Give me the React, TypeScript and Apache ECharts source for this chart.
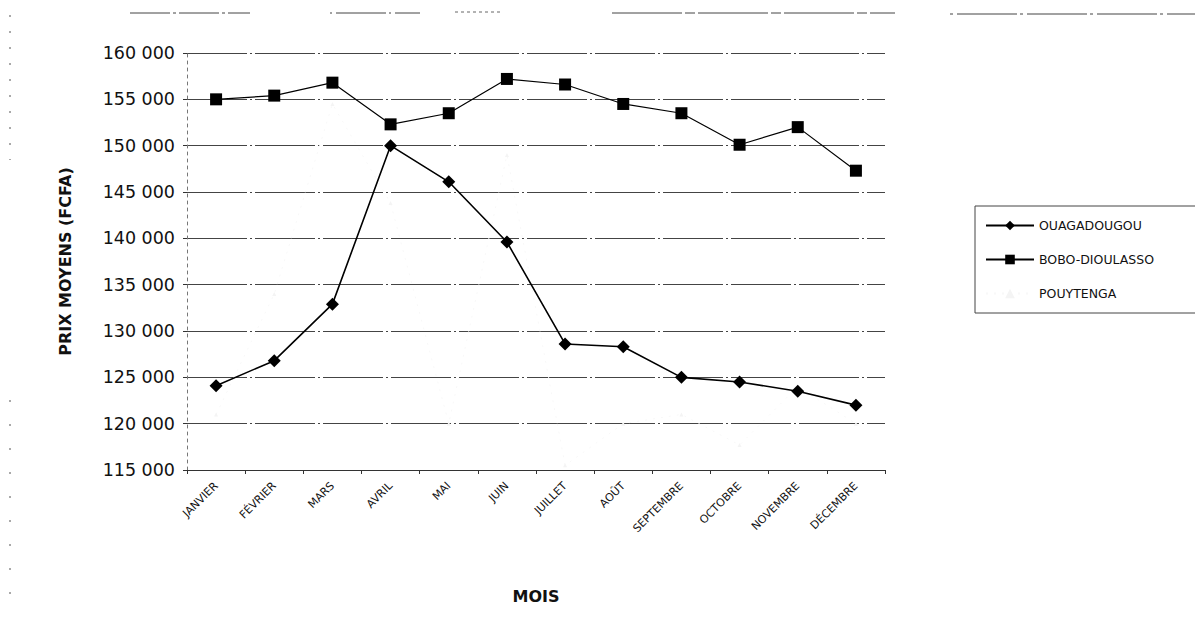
import React, { useEffect, useRef } from "react";
import * as echarts from "echarts";

const months = ["JANVIER", "FÉVRIER", "MARS", "AVRIL", "MAI", "JUIN", "JUILLET", "AOÛT", "SEPTEMBRE", "OCTOBRE", "NOVEMBRE", "DÉCEMBRE"];
const ouagadougou = [124100, 126800, 132900, 150000, 146100, 139600, 128600, 128300, 125000, 124500, 123500, 122000];
const boboDioulasso = [155000, 155400, 156800, 152300, 153500, 157200, 156600, 154500, 153500, 150100, 152000, 147300];
const pouytenga = [121000, 134000, 154500, 143800, 120000, 149000, 115500, 120000, 121000, 117700, 124000, 120000];
const seriesNames = ["OUAGADOUGOU", "BOBO-DIOULASSO", "POUYTENGA"];

const FONT = "DejaVu Sans";

export default function App() {
  const ref = useRef<HTMLDivElement>(null);
  useEffect(() => {
    document.body.style.margin = "0";
    const chart = echarts.init(ref.current!, null, { renderer: "svg" });
    chart.setOption({
      animation: false,
      backgroundColor: "#ffffff",
      textStyle: { fontFamily: FONT, color: "#111" },
      grid: { left: 187, right: 310, top: 53, bottom: 167 },
      legend: {
        data: seriesNames,
        orient: "vertical",
        left: 975,
        top: 206,
        itemWidth: 48,
        itemHeight: 12,
        itemGap: 21,
        padding: [13, 50, 13, 10],
        borderColor: "#444",
        borderWidth: 1,
        textStyle: { fontFamily: FONT, fontSize: 12.5, color: "#111" },
      },
      xAxis: {
        type: "category",
        data: months,
        boundaryGap: true,
        name: "MOIS",
        nameLocation: "middle",
        nameGap: 118,
        nameTextStyle: { fontFamily: FONT, fontWeight: "bold", fontSize: 16, color: "#111" },
        axisLine: { lineStyle: { color: "#333", width: 1 } },
        axisTick: { show: true, length: 4, lineStyle: { color: "#333" } },
        axisLabel: { rotate: 45, fontSize: 11, color: "#111", margin: 14, interval: 0, fontFamily: FONT },
      },
      yAxis: {
        type: "value",
        min: 115000,
        max: 160000,
        interval: 5000,
        name: "PRIX MOYENS (FCFA)",
        nameLocation: "middle",
        nameGap: 114,
        nameRotate: 90,
        nameTextStyle: { fontFamily: FONT, fontWeight: "bold", fontSize: 16, color: "#111" },
        axisLine: { show: true, lineStyle: { color: "#777", type: [3, 4], width: 1 } },
        axisTick: { show: true, length: 4, lineStyle: { color: "#333" } },
        axisLabel: {
          fontSize: 17.5,
          color: "#111",
          margin: 12,
          fontFamily: FONT,
          formatter: (v: number) => String(v).replace(/\B(?=(\d{3})+(?!\d))/g, " "),
        },
        splitLine: { show: true, lineStyle: { color: "#444", width: 1, type: [60, 3, 2, 3] } },
      },
      series: [
        {
          name: seriesNames[0],
          type: "line",
          data: ouagadougou,
          symbol: "diamond",
          symbolSize: 13,
          itemStyle: { color: "#000" },
          lineStyle: { color: "#000", width: 1.6 },
        },
        {
          name: seriesNames[1],
          type: "line",
          data: boboDioulasso,
          symbol: "rect",
          symbolSize: 12,
          itemStyle: { color: "#000" },
          lineStyle: { color: "#000", width: 1.2 },
        },
        {
          name: seriesNames[2],
          type: "line",
          data: pouytenga,
          symbol: "triangle",
          symbolSize: 4,
          itemStyle: { color: "#f4f4f4" },
          lineStyle: { color: "#f8f8f8", width: 1, type: [2, 6] },
          z: 1,
        },
      ],
      graphic: [
        { type: "line", shape: { x1: 130, y1: 13, x2: 250, y2: 13 }, style: { stroke: "#444", lineWidth: 1, lineDash: [40, 3, 3, 3] } },
        { type: "line", shape: { x1: 330, y1: 13, x2: 420, y2: 13 }, style: { stroke: "#444", lineWidth: 1, lineDash: [2, 4, 50, 3] } },
        { type: "line", shape: { x1: 455, y1: 12, x2: 500, y2: 12 }, style: { stroke: "#666", lineWidth: 1, lineDash: [3, 3] } },
        { type: "line", shape: { x1: 612, y1: 13, x2: 895, y2: 13 }, style: { stroke: "#444", lineWidth: 1, lineDash: [70, 3, 10, 3] } },
        { type: "line", shape: { x1: 950, y1: 14, x2: 1195, y2: 14 }, style: { stroke: "#444", lineWidth: 1, lineDash: [3, 4, 60, 3] } },
        { type: "line", shape: { x1: 10, y1: 15, x2: 10, y2: 160 }, style: { stroke: "#555", lineWidth: 1, lineDash: [2, 14] } },
        { type: "line", shape: { x1: 10, y1: 400, x2: 10, y2: 600 }, style: { stroke: "#555", lineWidth: 1, lineDash: [2, 22] } },
      ],
    });
    return () => chart.dispose();
  }, []);
  return <div ref={ref} style={{ position: "absolute", left: 0, top: 0, width: 1195, height: 637 }} />;
}
